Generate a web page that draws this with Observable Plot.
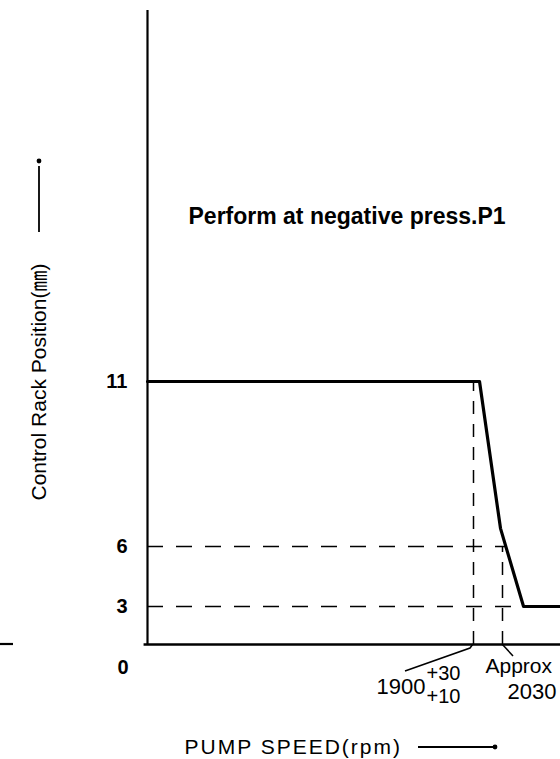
<!DOCTYPE html>
<html>
<head>
<meta charset="utf-8">
<script src="https://cdn.jsdelivr.net/npm/d3@7"></script>
<script src="https://cdn.jsdelivr.net/npm/@observablehq/plot@0.6"></script>
<style>
  html, body { margin: 0; padding: 0; background: white; }
  #chart { width: 560px; height: 759px; overflow: hidden; }
</style>
</head>
<body>
<div id="chart"></div>
<script>
// ---- data ----
const curveRpm  = [0, 1927, 2021, 2128, 2300];
const curveRack = [11, 11, 6.55, 3, 3];
const yTicks = [3, 6, 11];
const refRpm = [1900, 2030];        // dashed verticals
const refRpmTop = [11, 6];          // their upper ends (rack mm)
const refRack = [6, 3];             // dashed horizontals
const refRackEnd = [2049, 2128];    // their right ends (rpm)
const xDomain = [0, 1900, 2030, 2300];
const yDomain = [0, 3, 6, 11, 22.3];
const yLabel = "Control Rack Position(㎜)";
const xLabel = "PUMP SPEED(rpm)";
const note = "Perform at negative press.P1";

const curve = curveRpm.map((r, i) => ({rpm: r, rack: curveRack[i]}));
const vRefs = refRpm.map((r, i) => ({rpm: r, top: refRpmTop[i]}));
const hRefs = refRack.map((v, i) => ({rack: v, end: refRackEnd[i]}));

const W = 560, H = 759, ML = 147, MB = 115, MT = 10;
const ff = "'Liberation Sans', Arial, Helvetica, 'Noto Sans CJK JP', sans-serif";

// schematic (non-uniform) axes of the original drawing: piecewise-linear warps
const xPix = [147, 473, 502, 560];
const yPix = [644, 606, 546, 381, 10];
const xWarp = d3.scaleLinear().domain(xDomain).range(xPix);
const yWarp = d3.scaleLinear().domain(yDomain).range(yPix);

function decorations(index, scales, values, dimensions) {
  const X = v => scales.x(xWarp(v)), Y = v => scales.y(yWarp(v));
  const g = d3.create("svg:g").attr("fill", "none").attr("stroke", "black");
  const bx = X(1900), by = Y(0), ax = X(2030), ox = X(0);
  // leader for 1900
  g.append("path").attr("stroke-width", 1.5)
    .attr("d", `M${bx - 68},${by + 27}L${bx - 3},${by + 4}L${bx},${by}`);
  // leader for Approx 2030
  g.append("path").attr("stroke-width", 1.5)
    .attr("d", `M${ax},${by}L${ax + 11},${by + 12}`);
  // y-axis label arrow
  const lx = ox - 108;
  g.append("path").attr("stroke-width", 1.8)
    .attr("d", `M${lx},${by - 412}L${lx},${by - 478}`);
  g.append("circle").attr("cx", lx).attr("cy", by - 483).attr("r", 2.4).attr("fill", "black").attr("stroke", "none");
  // x-axis label arrow
  g.append("path").attr("stroke-width", 1.8)
    .attr("d", `M${ox + 271},${by + 103}L${ox + 346},${by + 103}`);
  g.append("circle").attr("cx", ox + 348).attr("cy", by + 103).attr("r", 2.4).attr("fill", "black").attr("stroke", "none");
  // stray fragment of neighbouring figure at the left edge
  g.append("path").attr("stroke-width", 2.2).attr("d", `M0,${by}L13,${by}`);
  return g.node();
}

const chart = Plot.plot({
  width: W, height: H,
  marginLeft: ML, marginRight: 0, marginTop: MT, marginBottom: MB,
  x: {transform: xWarp, domain: [147, 560], range: [147, 560], axis: null},
  y: {transform: yWarp, domain: [644, 10], range: [644, 10], axis: null},
  style: {fontFamily: ff, background: "white", color: "black", overflow: "visible"},
  marks: [
    // dashed reference lines
    Plot.ruleY(hRefs, {y: "rack", x1: 0, x2: "end", stroke: "black", strokeWidth: 1.5, strokeDasharray: "16,13"}),
    Plot.ruleX(vRefs, {x: "rpm", y1: 0, y2: "top", stroke: "black", strokeWidth: 1.5, strokeDasharray: "13,10"}),
    // axes lines
    Plot.ruleX([0], {y1: 0, y2: 22.3, stroke: "black", strokeWidth: 2.2}),
    Plot.ruleY([0], {x1: -20, x2: 2300, stroke: "black", strokeWidth: 2.4}),
    // characteristic curve
    Plot.line(curve, {x: "rpm", y: "rack", stroke: "black", strokeWidth: 3.2, strokeLinejoin: "round"}),
    // y tick labels
    Plot.axisY(yTicks, {anchor: "left", tickSize: 0, tickPadding: 20, fontSize: 20, fontWeight: "bold", label: null}),
    Plot.text(["0"], {x: 0, y: 0, dx: -19, dy: 23, textAnchor: "end", lineAnchor: "middle", fontSize: 20, fontWeight: "bold"}),
    // y axis title (rotated)
    Plot.text([yLabel], {frameAnchor: "bottom-left", dx: -108, dy: -144, rotate: -90, textAnchor: "start", lineAnchor: "middle", fontSize: 21}),
    // x axis title
    Plot.text([xLabel], {frameAnchor: "bottom-left", dx: 37, dy: 103, textAnchor: "start", lineAnchor: "middle", fontSize: 21}),
    // note
    Plot.text([note], {frameAnchor: "top-left", dx: 41, dy: 206.6, textAnchor: "start", lineAnchor: "middle", fontSize: 23, fontWeight: "bold"}),
    // x annotations
    Plot.text([1900], {x: d => d, y: 0, text: d => String(d), dx: -48, dy: 42, textAnchor: "end", lineAnchor: "middle", fontSize: 22}),
    Plot.text(["+30"], {x: 1900, y: 0, dx: -47, dy: 28.6, textAnchor: "start", lineAnchor: "middle", fontSize: 20}),
    Plot.text(["+10"], {x: 1900, y: 0, dx: -47, dy: 51.6, textAnchor: "start", lineAnchor: "middle", fontSize: 20}),
    Plot.text(["Approx"], {x: 2030, y: 0, dx: -17, dy: 22, textAnchor: "start", lineAnchor: "middle", fontSize: 21}),
    Plot.text([2030], {x: d => d, y: 0, text: d => String(d), dx: 5, dy: 47, textAnchor: "start", lineAnchor: "middle", fontSize: 22}),
    decorations
  ]
});

d3.select(chart).selectAll("text")
  .filter(function () { return this.textContent === xLabel; })
  .attr("letter-spacing", "2px");

document.getElementById("chart").append(chart);
</script>
</body>
</html>
